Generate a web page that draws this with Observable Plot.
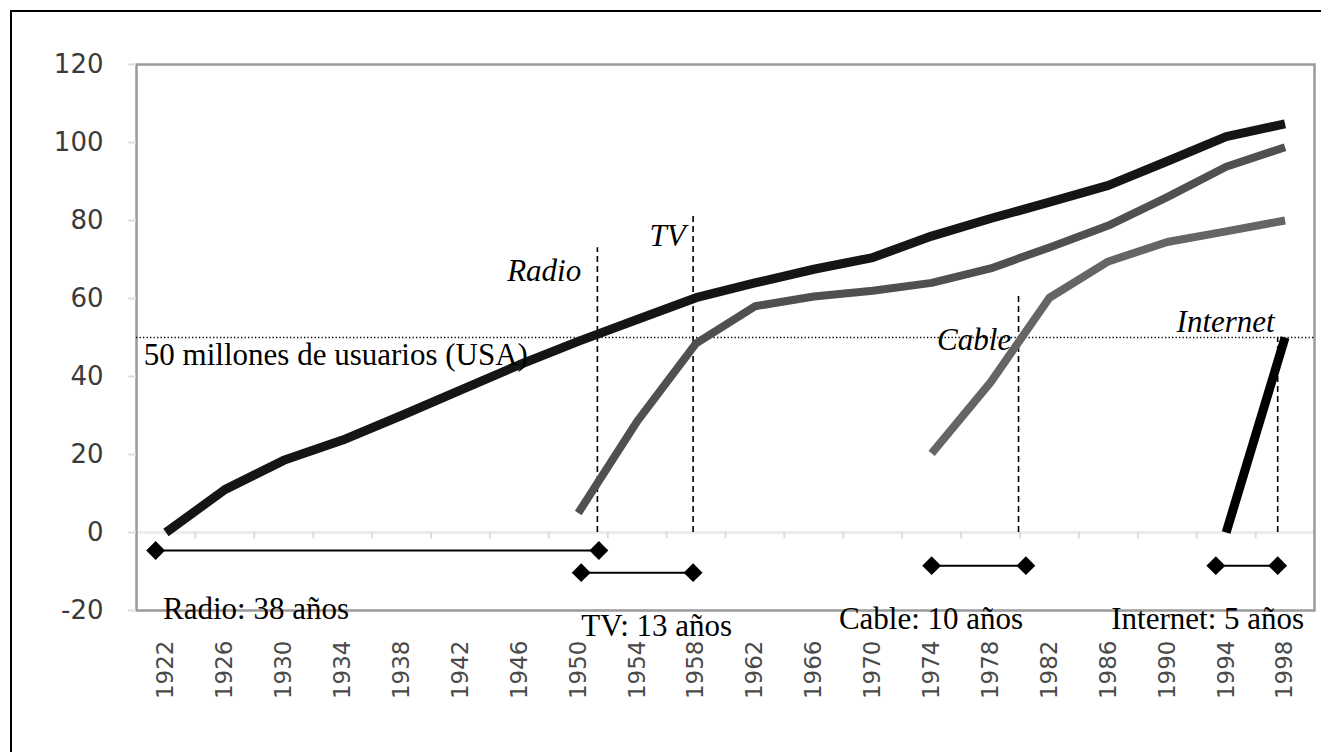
<!DOCTYPE html>
<html>
<head>
<meta charset="utf-8">
<script src="https://cdn.jsdelivr.net/npm/d3@7"></script>
<script src="https://cdn.jsdelivr.net/npm/@observablehq/plot@0.6"></script>
<style>
  html, body { margin: 0; padding: 0; background: #fff; }
  #wrap { position: relative; width: 1321px; height: 752px; overflow: hidden; }
  #frame { position: absolute; left: 10px; top: 10px; width: 1320px; height: 760px;
           border-left: 2px solid #000; border-top: 2px solid #000; box-sizing: border-box; }
  #chart { position: absolute; left: 0; top: 0; }
</style>
</head>
<body>
<div id="wrap"><div id="chart"></div><div id="frame"></div></div>
<script>
// ---- data ----
const years = [1922,1926,1930,1934,1938,1942,1946,1950,1954,1958,1962,1966,1970,1974,1978,1982,1986,1990,1994,1998];
const radio    = [0, 11, 18.5, 23.7, 30, 36.5, 43, 49, 54.6, 60.2, 64, 67.5, 70.5, 76, 80.5, 84.7, 89, 95.2, 101.5, 104.8];
const tv       = [null, null, null, null, null, null, null, 5, 28.5, 48.5, 58, 60.5, 62, 64, 67.7, 73.1, 78.7, 86, 93.8, 98.8];
const cable    = [null, null, null, null, null, null, null, null, null, null, null, null, null, 20.3, 38.5, 60.2, 69.5, 74.5, 77.2, 80];
const internet = [null, null, null, null, null, null, null, null, null, null, null, null, null, null, null, null, null, null, 0, 50];
const yTicks = [-20, 0, 20, 40, 60, 80, 100, 120];

// threshold
const thresholdValue = 50;
const thresholdLabel = "50 millones de usuarios (USA)";

// media markers (year where 50M reached) and italic names
const mediaNames   = ["Radio", "TV", "Cable", "Internet"];
const markerYear   = [1951.3, 1957.8, 1979.9, 1997.5];
const markerTop    = [73, 81.5, 61, 50];
const nameYear     = [1950.2, 1957.3, 1979.4, 1997.3];
const nameValue    = [67, 76, 49.3, 54];

// time spans
const spanLabels = ["Radio: 38 años", "TV: 13 años", "Cable: 10 años", "Internet: 5 años"];
const spanStart  = [1921.3, 1950.2, 1974.0, 1993.3];
const spanEnd    = [1951.4, 1957.8, 1980.4, 1997.5];
const spanValue  = [-4.6, -10.3, -8.5, -8.5];
const spanLabelYear  = [1921.8, 1950.2, 1967.7, 1986.2];
const spanLabelValue = [-19.6, -23.9, -22.1, -22.1];

// ---- build tables ----
const toSeries = (arr) => years.map((yr, i) => ({year: yr, value: arr[i]})).filter(d => d.value != null);
const spans = spanLabels.map((l, i) => ({label: l, x1: spanStart[i], x2: spanEnd[i], y: spanValue[i], lx: spanLabelYear[i], ly: spanLabelValue[i]}));
const markers = mediaNames.map((n, i) => ({name: n, x: markerYear[i], top: markerTop[i], nx: nameYear[i], ny: nameValue[i]}));
const boundaries = years.map(y => y - 2).concat([years[years.length - 1] + 2]);
const diamonds = spans.flatMap(s => [{x: s.x1, y: s.y}, {x: s.x2, y: s.y}]);

const serif = "'Liberation Serif', 'Times New Roman', serif";
const sans = "'DejaVu Sans', Verdana, sans-serif";

const chart = Plot.plot({
  width: 1321,
  height: 752,
  marginLeft: 136,
  marginRight: 7,
  marginTop: 64,
  marginBottom: 142,
  style: {fontFamily: sans, background: "transparent", overflow: "visible"},
  x: {domain: [1920, 2000], label: null},
  y: {domain: [-20, 120], label: null},
  marks: [
    Plot.ruleY([0], {stroke: "#ececec", strokeWidth: 3}),
    Plot.ruleX(boundaries, {x: d => d, y1: 0, y2: -1.6, stroke: "#dcdcdc", strokeWidth: 2}),
    Plot.frame({stroke: "#9a9a9a", strokeWidth: 2.5}),
    Plot.axisY(yTicks, {tickSize: 8, tickPadding: 25, stroke: "#dedede", strokeWidth: 2, fill: "#3a3a3a", fontSize: 26, fontFamily: sans, tickFormat: d => String(d)}),
    Plot.axisX(years, {tickRotate: -90, tickSize: 0, tickPadding: 30, fill: "#4a4a4a", fontSize: 23, fontFamily: sans, tickFormat: d => String(d)}),
    Plot.ruleY([thresholdValue], {stroke: "#000", strokeWidth: 1.3, strokeDasharray: "1.3,2.2"}),
    Plot.ruleX(markers, {x: "x", y1: 0, y2: "top", stroke: "#000", strokeWidth: 1.6, strokeDasharray: "6,4"}),
    Plot.line(toSeries(radio), {x: "year", y: "value", stroke: "#151515", strokeWidth: 9, strokeLinejoin: "round", strokeLinecap: "butt"}),
    Plot.line(toSeries(tv), {x: "year", y: "value", stroke: "#505050", strokeWidth: 8, strokeLinejoin: "round", strokeLinecap: "butt"}),
    Plot.line(toSeries(cable), {x: "year", y: "value", stroke: "#656565", strokeWidth: 8, strokeLinejoin: "round", strokeLinecap: "butt"}),
    Plot.line(toSeries(internet), {x: "year", y: "value", stroke: "#000", strokeWidth: 9, strokeLinecap: "butt"}),
    Plot.link(spans, {x1: "x1", x2: "x2", y1: "y", y2: "y", stroke: "#000", strokeWidth: 2}),
    Plot.dot(diamonds, {x: "x", y: "y", symbol: "diamond2", r: 8.5, fill: "#000", stroke: "none"}),
    Plot.text([thresholdLabel], {x: 1920.5, y: 45.5, text: d => d, textAnchor: "start", fontSize: 31, fontFamily: serif, fill: "#000"}),
    Plot.text(markers, {x: "nx", y: "ny", text: "name", textAnchor: "end", fontSize: 31, fontStyle: "italic", fontFamily: serif, fill: "#000"}),
    Plot.text(spans, {x: "lx", y: "ly", text: "label", textAnchor: "start", fontSize: 31, fontFamily: serif, fill: "#000"})
  ]
});
document.getElementById("chart").appendChild(chart);
</script>
</body>
</html>
